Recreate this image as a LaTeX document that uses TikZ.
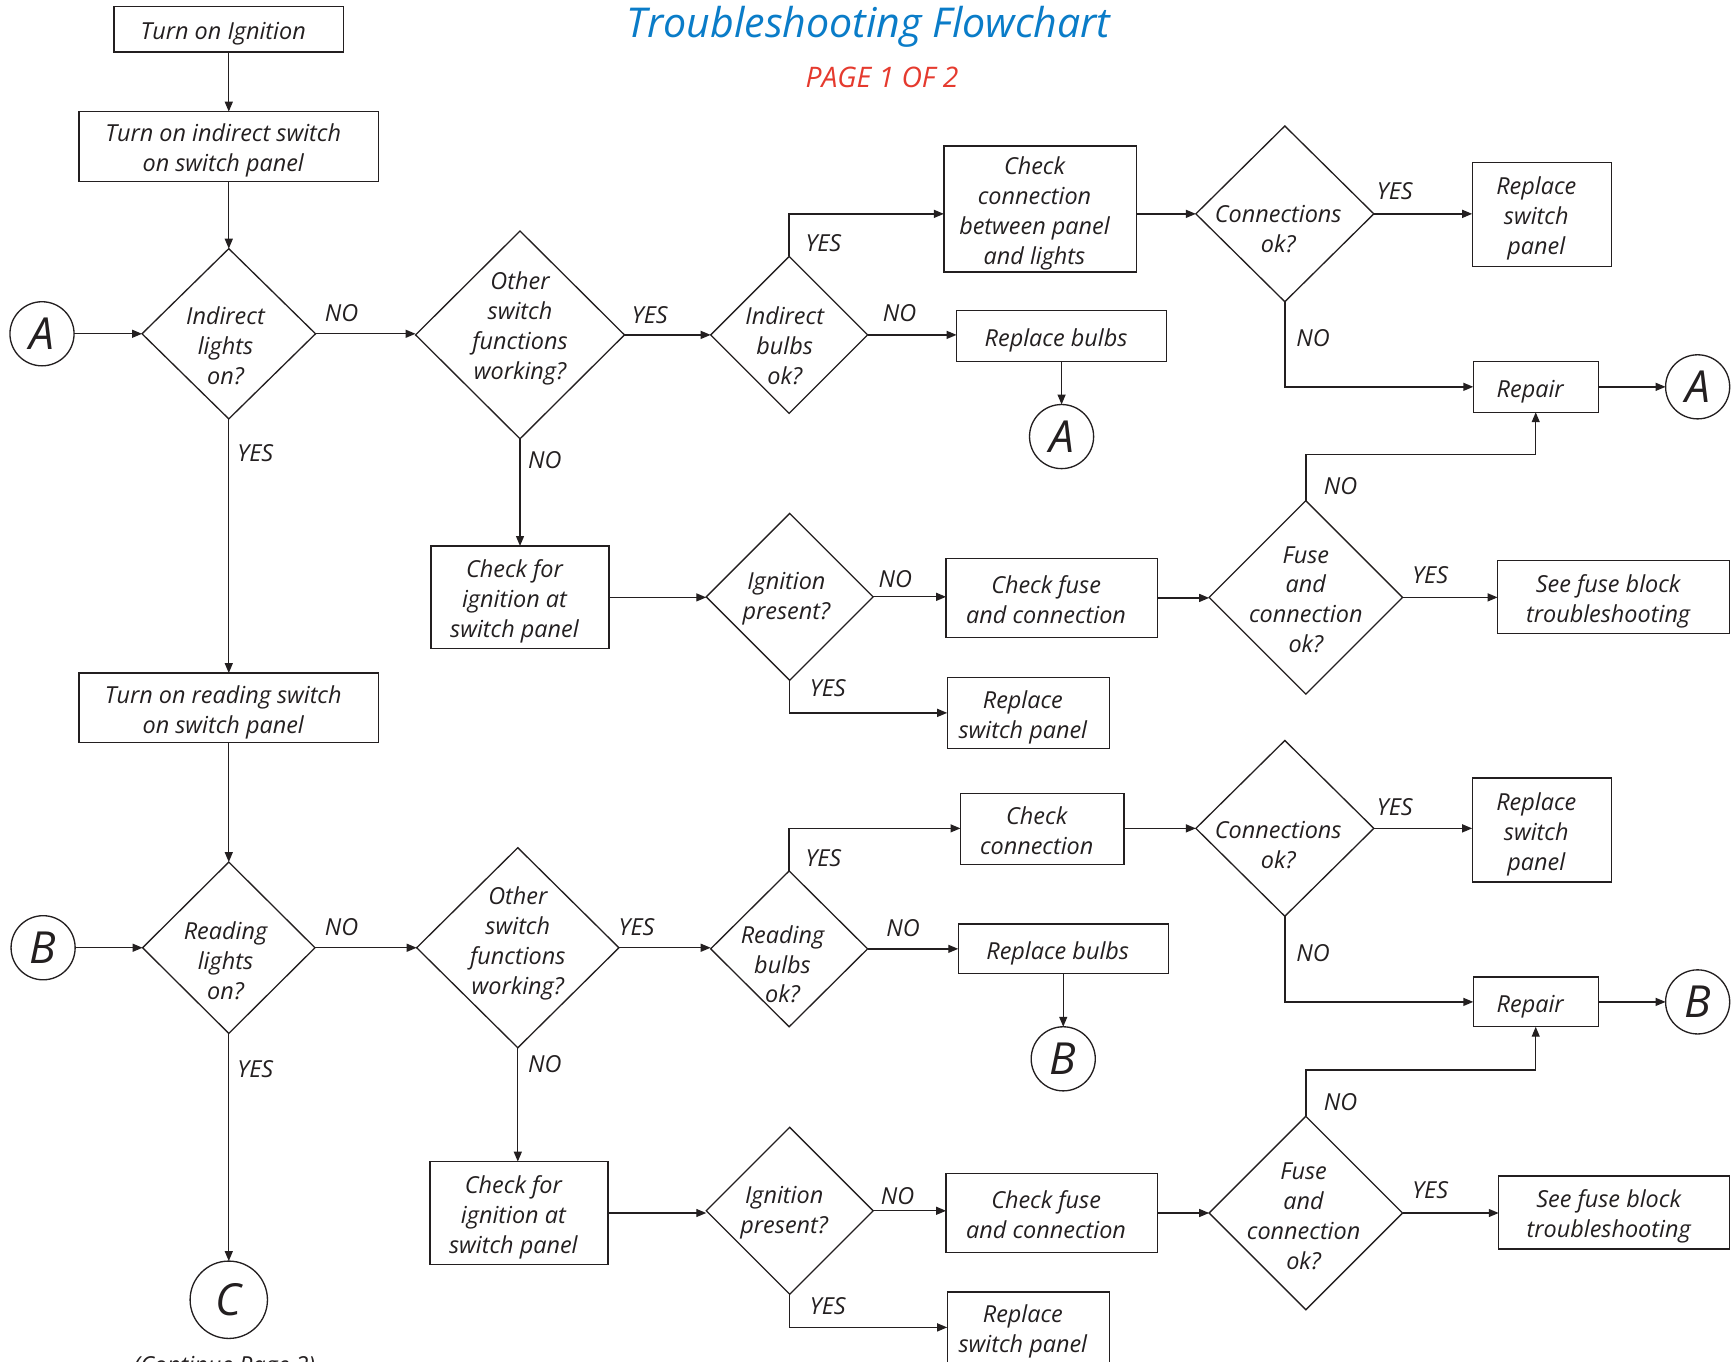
\documentclass[tikz,border=0pt]{standalone}
\usepackage{fontspec}
\setmainfont{Open Sans}
\usetikzlibrary{shapes.geometric,arrows.meta,calc}
\definecolor{txt}{HTML}{231F20}
\definecolor{ttl}{HTML}{0A7CC8}
\definecolor{pg}{HTML}{E53A2E}
\newcommand\bx[1]{\raisebox{-2pt}[\height][\depth]{\begin{tabular}{@{}c@{}}#1\end{tabular}}\hspace*{5pt}}
\begin{document}
\begin{tikzpicture}[x=0.5pt,y=-0.5pt,
 every node/.style={font=\fontsize{10.6}{13.5}\selectfont\itshape, text=txt},
 box/.style={draw=txt, rectangle, inner sep=0pt, outer sep=0pt, align=center, line width=0.6pt},
 dia/.style={draw=txt, diamond, inner sep=0pt, outer sep=0pt, line width=0.6pt},
 dlab/.style={align=center},
 conn/.style={draw=txt, circle, inner sep=0pt, outer sep=0pt, minimum size=29pt, line width=0.6pt, font=\fontsize{20}{20}\selectfont\itshape},
 yn/.style={inner sep=0pt},
 arr/.style={draw=txt, -{Triangle[length=4.5pt,width=3.6pt]}, line width=0.6pt},
]
\useasboundingbox (0,0) rectangle (1568,1232);
\clip (0,0) rectangle (1568,1232);

% titles
\node[font=\fontsize{18.6}{18}\selectfont\itshape, text=ttl] (title) at (786,24) {Troubleshooting Flowchart};
\node[font=\fontsize{12.8}{12}\selectfont\itshape, text=pg] (page) at (798,70) {PAGE 1 OF 2};

% ---------------- upper part
\node[box, minimum width=104pt, minimum height=20.5pt] (b1) at (207,26.5) {\bx{Turn on Ignition}};
\node[box, minimum width=135.5pt, minimum height=31.5pt] (b2) at (207,132.5) {\bx{Turn on indirect switch\\on switch panel}};
\node[dia, minimum width=78.5pt, minimum height=77pt, label={[dlab,yshift=-5.5pt,xshift=-1.5pt]center:Indirect\\lights\\on?}] (d1) at (207,302) {};
\node[conn] (a1) at (38,302) {A};
\node[dia, minimum width=94.5pt, minimum height=94pt, label={[dlab,yshift=3pt]center:Other\\switch\\functions\\working?}] (d2) at (470.5,303) {};
\node[dia, minimum width=71pt, minimum height=71pt, label={[dlab,yshift=-5pt,xshift=-2pt]center:Indirect\\bulbs\\ok?}] (d3) at (714,303) {};
\node[box, minimum width=87pt, minimum height=57pt] (b3) at (941,189) {\bx{Check\\connection\\between panel\\and lights}};
\node[dia, minimum width=80.5pt, minimum height=79.5pt, label={[dlab,yshift=-7pt,xshift=-3pt]center:Connections\\ok?}] (d4) at (1162.5,193.5) {};
\node[box, minimum width=63pt, minimum height=47pt] (b4) at (1395,194) {\bx{Replace\\switch\\panel}};
\node[box, minimum width=56.5pt, minimum height=23pt] (b5) at (1389.5,350) {\bx{Repair}};
\node[conn] (a2) at (1536,350) {A};
\node[box, minimum width=95pt, minimum height=23pt] (b6) at (960.5,304) {\bx{Replace bulbs}};
\node[conn] (a3) at (960.5,395) {A};
\node[box, minimum width=80.5pt, minimum height=46.5pt] (b7) at (470.5,540.5) {\bx{Check for\\ignition at\\switch panel}};
\node[dia, minimum width=75.5pt, minimum height=75.5pt, label={[dlab,yshift=-1pt,xshift=-1.5pt]center:Ignition\\present?}] (d5) at (714.5,540) {};
\node[box, minimum width=95.5pt, minimum height=35.5pt] (b8) at (951.5,541) {\bx{Check fuse\\and connection}};
\node[dia, minimum width=87.5pt, minimum height=87.5pt, label={[dlab,yshift=-1pt]center:Fuse\\and\\connection\\ok?}] (d6) at (1181.5,540.5) {};
\node[box, minimum width=105pt, minimum height=33pt] (b9) at (1460,540) {\bx{See fuse block\\troubleshooting}};
\node[box, minimum width=73.5pt, minimum height=32pt] (b10) at (930.5,645) {\bx{Replace\\switch panel}};
\node[box, minimum width=135.5pt, minimum height=31.5pt] (b11) at (207,640.5) {\bx{Turn on reading switch\\on switch panel}};
\coordinate (k1) at (1389.5,411);

\draw[arr] (b1.south) -- (b2.north);
\draw[arr] (b2.south) -- (d1.north);
\draw[arr] (a1.east) -- (d1.west);
\draw[arr] (d1.east) -- (d1.east -| d2.west);
\draw[arr] (d2.east) -- (d2.east -| d3.west);
\draw[arr] (d3.north) |- (b3.west |- d4.west);
\draw[arr] (b3.east |- d4.west) -- (d4.west);
\draw[arr] (d4.east) -- (d4.east -| b4.west);
\draw[arr] (d4.south) |- (b5.west);
\draw[arr] (b5.east) -- (a2.west);
\draw[arr] (d3.east) -- (d3.east -| b6.west);
\draw[arr] (b6.south) -- (a3.north);
\draw[arr] (d2.south) -- (d2.south |- b7.north);
\draw[arr] (b7.east) -- (b7.east -| d5.west);
\draw[arr] (d5.east) -- (d5.east -| b8.west);
\draw[arr] (b8.east) -- (b8.east -| d6.west);
\draw[arr] (d6.east) -- (d6.east -| b9.west);
\draw[arr] (d6.north) |- (k1) -- (b5.south);
\draw[arr] (d5.south) |- (b10.west);
\draw[arr] (d1.south) -- (b11.north);

\node[yn] (l1) at (309,283) {NO};
\node[yn] (l2) at (588,285) {YES};
\node[yn] (l3) at (745,220) {YES};
\node[yn] (l4) at (1262,173) {YES};
\node[yn] (l5) at (1188,306) {NO};
\node[yn] (l6) at (814,283) {NO};
\node[yn] (l7) at (493,416) {NO};
\node[yn] (l8) at (810,524) {NO};
\node[yn] (l9) at (1294,520) {YES};
\node[yn] (l10) at (1213,440) {NO};
\node[yn] (l11) at (749,623) {YES};
\node[yn] (l12) at (231,410) {YES};

% ---------------- lower part
\node[dia, minimum width=78pt, minimum height=77.5pt, label={[dlab,yshift=-6pt,xshift=-1.5pt]center:Reading\\lights\\on?}] (e1) at (207,857.5) {};
\node[conn] (c1) at (39,857.5) {B};
\node[dia, minimum width=91.5pt, minimum height=90.5pt, label={[dlab,yshift=2pt]center:Other\\switch\\functions\\working?}] (e2) at (468.5,857.5) {};
\node[dia, minimum width=71pt, minimum height=70.5pt, label={[dlab,yshift=-7pt,xshift=-3pt]center:Reading\\bulbs\\ok?}] (e3) at (714,858.5) {};
\node[box, minimum width=74pt, minimum height=32pt] (f3) at (943,750) {\bx{Check\\connection}};
\node[dia, minimum width=80.5pt, minimum height=79.5pt, label={[dlab,yshift=-7.5pt,xshift=-3pt]center:Connections\\ok?}] (e4) at (1162.5,749.5) {};
\node[box, minimum width=63pt, minimum height=47pt] (f4) at (1395,751) {\bx{Replace\\switch\\panel}};
\node[box, minimum width=56.5pt, minimum height=22.5pt] (f5) at (1389.5,906.5) {\bx{Repair}};
\node[conn] (c2) at (1536,906.5) {B};
\node[box, minimum width=95pt, minimum height=22.5pt] (f6) at (962,858.5) {\bx{Replace bulbs}};
\node[conn] (c3) at (962,958) {B};
\node[box, minimum width=80.5pt, minimum height=46.5pt] (f7) at (469.5,1097.5) {\bx{Check for\\ignition at\\switch panel}};
\node[dia, minimum width=75.5pt, minimum height=75.5pt, label={[dlab,yshift=-1pt,xshift=-2.5pt]center:Ignition\\present?}] (e5) at (714.5,1095.5) {};
\node[box, minimum width=95.5pt, minimum height=35.5pt] (f8) at (951.5,1097.5) {\bx{Check fuse\\and connection}};
\node[dia, minimum width=87.5pt, minimum height=87.5pt, label={[dlab,yshift=-1.5pt,xshift=-1pt]center:Fuse\\and\\connection\\ok?}] (e6) at (1181.5,1097.5) {};
\node[box, minimum width=104.5pt, minimum height=33pt] (f9) at (1460.5,1097) {\bx{See fuse block\\troubleshooting}};
\node[box, minimum width=73.5pt, minimum height=32pt] (f10) at (930.5,1201) {\bx{Replace\\switch panel}};
\node[conn, minimum size=35pt] (cc) at (207,1176) {C};
\node[inner sep=0pt, anchor=north] (cont) at (203,1227) {(Continue Page 2)};
\coordinate (k2) at (1389.5,968);

\draw[arr] (b11.south) -- (e1.north);
\draw[arr] (c1.east) -- (e1.west);
\draw[arr] (e1.east) -- (e1.east -| e2.west);
\draw[arr] (e2.east) -- (e2.east -| e3.west);
\draw[arr] (e3.north) |- (f3.west |- e4.west);
\draw[arr] (f3.east |- e4.west) -- (e4.west);
\draw[arr] (e4.east) -- (e4.east -| f4.west);
\draw[arr] (e4.south) |- (f5.west);
\draw[arr] (f5.east) -- (c2.west);
\draw[arr] (e3.east) -- (e3.east -| f6.west);
\draw[arr] (f6.south) -- (c3.north);
\draw[arr] (e2.south) -- (e2.south |- f7.north);
\draw[arr] (f7.east) -- (f7.east -| e5.west);
\draw[arr] (e5.east) -- (e5.east -| f8.west);
\draw[arr] (f8.east) -- (f8.east -| e6.west);
\draw[arr] (e6.east) -- (e6.east -| f9.west);
\draw[arr] (e6.north) |- (k2) -- (f5.south);
\draw[arr] (e5.south) |- (f10.west);
\draw[arr] (e1.south) -- (cc.north);

\node[yn] (m1) at (309,839) {NO};
\node[yn] (m2) at (576,839) {YES};
\node[yn] (m3) at (745,776) {YES};
\node[yn] (m4) at (1262,730) {YES};
\node[yn] (m5) at (1188,862) {NO};
\node[yn] (m6) at (817,840) {NO};
\node[yn] (m7) at (493,963) {NO};
\node[yn] (m8) at (812,1082) {NO};
\node[yn] (m9) at (1294,1077) {YES};
\node[yn] (m10) at (1213,997) {NO};
\node[yn] (m11) at (749,1182) {YES};
\node[yn] (m12) at (231,967) {YES};
\end{tikzpicture}
\end{document}
